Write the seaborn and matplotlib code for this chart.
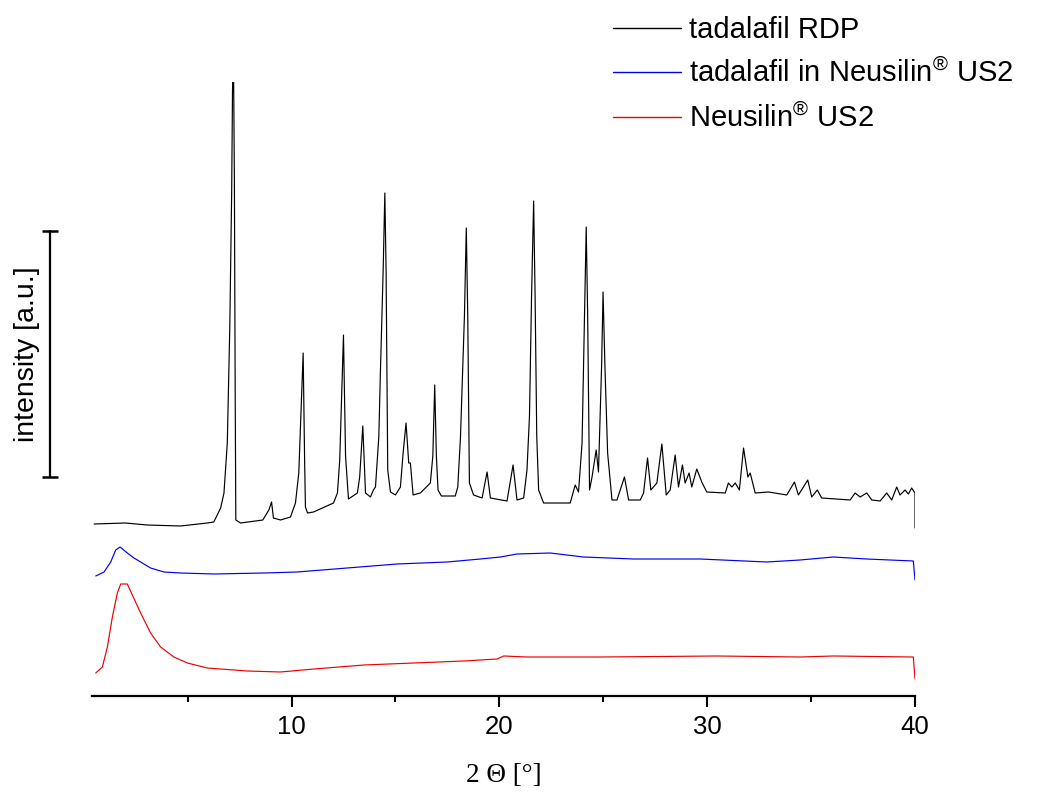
import numpy as np
import pandas as pd
import matplotlib
matplotlib.use("Agg")
import matplotlib.pyplot as plt
import matplotlib.transforms as mtransforms
import seaborn as sns

# ---------------- data ----------------
two_theta_rdp = [0.5, 2.0, 3.06, 4.66, 5.95, 6.26, 6.59, 6.75, 6.91, 7.03, 7.12, 7.16, 7.20,
                 7.25, 7.29, 7.32, 7.55, 8.27, 8.62, 8.91, 9.04, 9.13, 9.47, 9.95, 10.19,
                 10.35, 10.43, 10.56, 10.63, 10.67, 10.77, 11.06, 12.02, 12.21, 12.32, 12.50,
                 12.60, 12.74, 13.17, 13.28, 13.43, 13.56, 13.80, 13.94, 14.04, 14.20, 14.28,
                 14.41, 14.49, 14.55, 14.63, 14.76, 15.00, 15.24, 15.37, 15.51, 15.64, 15.72,
                 15.85, 16.20, 16.68, 16.80, 16.89, 16.97, 17.05, 17.21, 17.88, 18.00, 18.13,
                 18.32, 18.41, 18.48, 18.56, 18.76, 19.17, 19.41, 19.57, 20.37, 20.66, 20.85,
                 21.17, 21.33, 21.45, 21.55, 21.65, 21.72, 21.80, 21.89, 22.13, 23.41, 23.65,
                 23.81, 23.98, 24.10, 24.18, 24.25, 24.34, 24.46, 24.66, 24.77, 24.92, 24.99,
                 25.08, 25.21, 25.42, 25.66, 26.02, 26.22, 26.78, 26.94, 27.13, 27.29, 27.58,
                 27.82, 28.03, 28.22, 28.46, 28.62, 28.81, 28.94, 29.13, 29.26, 29.50, 29.74,
                 29.98, 30.87, 31.02, 31.19, 31.35, 31.55, 31.75, 31.96, 32.07, 32.31, 32.95,
                 33.83, 34.20, 34.39, 34.84, 35.03, 35.30, 35.51, 36.88, 37.12, 37.36, 37.68,
                 37.92, 38.32, 38.64, 38.88, 39.12, 39.28, 39.52, 39.68, 39.84, 40.0, 40.0]
intensity_rdp = [172, 173, 171, 170, 173, 174, 188, 203, 253, 369, 503, 603, 660,
                 520, 303, 176, 173, 175, 176, 186, 194, 178, 176, 179, 193,
                 223, 269, 343, 236, 189, 183, 184, 193, 203, 236, 361,
                 240, 197, 203, 219, 270, 203, 199, 206, 209, 259, 326,
                 426, 503, 426, 226, 204, 201, 209, 243, 273, 233, 233,
                 201, 203, 213, 240, 311, 240, 206, 200, 200, 209, 259,
                 380, 468, 380, 213, 201, 198, 224, 198, 195, 231, 196,
                 198, 226, 280, 400, 495, 400, 260, 206, 193, 193, 211,
                 204, 253, 380, 469, 380, 206, 219, 246, 224, 330, 404,
                 330, 243, 196, 196, 219, 196, 196, 203, 238, 206, 213,
                 252, 201, 206, 241, 209, 231, 213, 223, 209, 227, 214,
                 204, 203, 213, 209, 213, 206, 248, 219, 223, 203, 204,
                 201, 214, 201, 216, 199, 206, 198, 196, 203, 199, 203,
                 196, 195, 203, 196, 209, 201, 206, 202, 208, 203, 168]

two_theta_mix = [0.58, 0.98, 1.30, 1.54, 1.75, 2.10, 2.42, 2.82, 3.22, 3.86, 4.66, 6.26, 8.67,
                 10.27, 12.68, 15.08, 17.49, 19.09, 20.05, 20.85, 22.45, 24.05, 26.46, 29.66,
                 32.87, 34.47, 36.07, 37.68, 39.92, 40.0]
intensity_mix = [120, 124, 134, 146, 149, 143, 138, 133, 128, 124, 123, 122, 123,
                 124, 128, 132, 134, 137, 139, 142, 143, 139, 137, 137,
                 134, 136, 139, 137, 135, 116]

two_theta_neu = [0.58, 0.90, 1.14, 1.38, 1.62, 1.78, 2.10, 2.34, 2.74, 3.22, 3.70, 4.34, 4.99,
                 5.95, 7.87, 9.47, 11.07, 13.48, 15.88, 18.28, 19.89, 20.21, 21.33, 24.86,
                 30.47, 34.47, 36.07, 39.92, 40.0]
intensity_neu = [23, 29, 49, 79, 103, 112, 112, 101, 83, 63, 49, 39, 33,
                 28, 25, 24, 27, 31, 33, 35, 37, 40, 39, 39,
                 40, 39, 40, 39, 17]

series_labels = ["tadalafil RDP",
                 "tadalafil in Neusilin$^{\\circledR}$ US2",
                 "Neusilin$^{\\circledR}$ US2"]
series_colors = ["#000000", "#0000ee", "#ee0000"]
x_ticks = [10, 20, 30, 40]
x_minor_ticks = [5, 15, 25, 35]
scale_bar = [219, 465]

# ---------------- build table ----------------
frames = []
for lab, xs, ys in zip(series_labels,
                       [two_theta_rdp, two_theta_mix, two_theta_neu],
                       [intensity_rdp, intensity_mix, intensity_neu]):
    frames.append(pd.DataFrame({"two_theta": xs, "intensity": ys, "sample": lab}))
df = pd.concat(frames, ignore_index=True)

# ---------------- style ----------------
sns.set_theme(style="white")
plt.rcParams["font.family"] = ["Liberation Sans", "DejaVu Sans"]
plt.rcParams["mathtext.fontset"] = "custom"
plt.rcParams["mathtext.rm"] = "Liberation Sans"
plt.rcParams["mathtext.it"] = "Liberation Sans:italic"
plt.rcParams["mathtext.bf"] = "Liberation Sans:bold"
plt.rcParams["text.color"] = "black"
plt.rcParams["xtick.color"] = "black"
plt.rcParams["xtick.labelcolor"] = "black"
plt.rcParams["axes.labelcolor"] = "black"

fig = plt.figure(figsize=(10.41, 7.94), dpi=100)
ax = fig.add_axes([92 / 1041, 1 - 696 / 794, (915 - 92) / 1041, (696 - 82) / 794])

sns.lineplot(data=df, x="two_theta", y="intensity", hue="sample",
             hue_order=series_labels, palette=series_colors, estimator=None, sort=False,
             linewidth=0.85, ax=ax, legend=True)

ax.set_xlim(0.4, 40)
ax.set_ylim(0, 614)

for s in ["top", "right", "left"]:
    ax.spines[s].set_visible(False)
ax.spines["bottom"].set_linewidth(1.6)
ax.spines["bottom"].set_color("black")

ax.set_xticks(x_ticks)
ax.set_xticks(x_minor_ticks, minor=True)
ax.set_yticks([])
ax.tick_params(axis="x", which="major", direction="out", length=8, width=1.5,
               labelsize=18.5, pad=6, colors="black", bottom=True)
ax.tick_params(axis="x", which="minor", direction="out", length=4.5, width=1.5,
               colors="black", bottom=True)

ax.set_xlabel("2 \u0398 [\u00b0]", fontfamily="Liberation Serif", fontsize=19.5,
              labelpad=17, color="black")
ax.set_ylabel("")

# intensity scale bar on the left
trans = mtransforms.blended_transform_factory(fig.transFigure, ax.transData)
bx = 50 / 1041
ax.plot([bx, bx], scale_bar, color="black", lw=1.6, transform=trans, clip_on=False)
ax.plot([bx, bx], scale_bar, color="black", lw=0, marker="_", markersize=11,
        markeredgewidth=1.8, transform=trans, clip_on=False)
fig.text(27 / 1041, 1 - 354 / 794, "intensity [a.u.]", rotation=90, ha="center",
         va="center", fontsize=20.5, color="black")

handles, labels = ax.get_legend_handles_labels()
ax.legend(handles, labels, loc="upper left", bbox_to_anchor=(613 / 1041, 1 - 16 / 794),
          bbox_transform=fig.transFigure, frameon=False, fontsize=21,
          handlelength=2.33, handletextpad=0.27, labelspacing=0.5, borderpad=0,
          borderaxespad=0)
for line in ax.get_legend().get_lines():
    line.set_linewidth(1.0)

fig.savefig("out.png", dpi=100)
